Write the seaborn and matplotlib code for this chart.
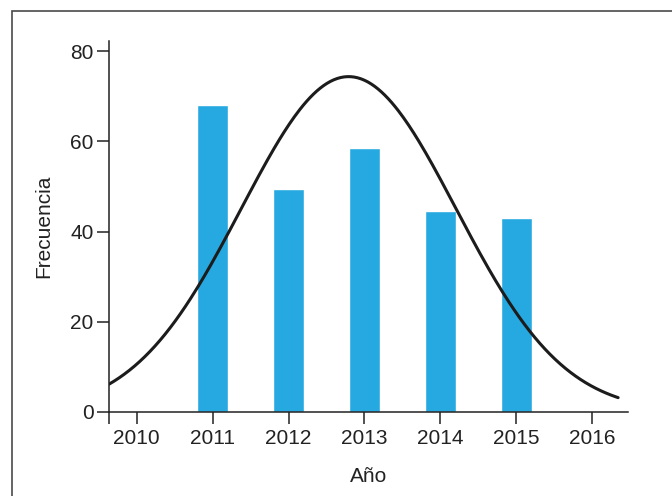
import numpy as np
import pandas as pd
import matplotlib
matplotlib.use("Agg")
import matplotlib.pyplot as plt
from matplotlib.patches import Rectangle
import seaborn as sns

# Frequencies per year
years = [2011, 2012, 2013, 2014, 2015]
frecuencia = [68, 49.5, 58.5, 44.5, 43]
tick_years = [2010, 2011, 2012, 2013, 2014, 2015, 2016]
y_ticks = [0, 20, 40, 60, 80]

sns.set_theme(style="white")
plt.rcParams["font.family"] = ["Liberation Sans", "DejaVu Sans"]

df = pd.DataFrame({"Año": years, "Frecuencia": frecuencia})

# Normal curve fitted to the frequency distribution (bin width = 1 year)
x = np.array(years, dtype=float)
w = np.array(frecuencia, dtype=float)
n = w.sum()
mu = (x * w).sum() / n
sigma = np.sqrt(((x - mu) ** 2 * w).sum() / n)
xs = np.linspace(2009.636, 2016.34, 300)
ys = n / (sigma * np.sqrt(2 * np.pi)) * np.exp(-0.5 * ((xs - mu) / sigma) ** 2)
curve = pd.DataFrame({"x": xs, "y": ys})

fig = plt.figure(figsize=(6.72, 4.96), dpi=100)
ax = fig.add_axes([0.1622, 0.1694, 0.9345 - 0.1622, 0.9173 - 0.1694])

dark = "#222222"
sns.barplot(data=df, x="Año", y="Frecuencia", native_scale=True, width=0.4,
            color="#26A9E0", saturation=1, ax=ax)
sns.lineplot(data=curve, x="x", y="y", color="#1c1c1c", linewidth=2.2, ax=ax)

ax.set_xlim(2009.636, 2016.47)
ax.set_ylim(0, 82.26)
ax.set_xticks(tick_years)
ax.set_xticklabels([str(t) for t in tick_years])
ax.set_yticks(y_ticks)
ax.set_xticks([2009.636], minor=True)

for side in ["top", "right"]:
    ax.spines[side].set_visible(False)
for side in ["left", "bottom"]:
    ax.spines[side].set_color(dark)
    ax.spines[side].set_linewidth(1.1)

ax.tick_params(axis="both", which="major", direction="out", length=8.6,
               width=1.1, color=dark, labelsize=15, labelcolor=dark,
               bottom=True, left=True)
ax.tick_params(axis="x", which="major", pad=4)
ax.tick_params(axis="y", which="major", pad=2.5)
ax.tick_params(axis="x", which="minor", direction="out", length=8.6,
               width=1.1, color=dark, bottom=True)

ax.set_xlabel("Año", fontsize=15, color=dark, labelpad=13)
ax.set_ylabel("Frecuencia", fontsize=15, color=dark, labelpad=12)

# Outer frame around the figure
fig.add_artist(Rectangle((11.5 / 672, -0.5), 2.0, 0.5 + 1 - 10.5 / 496,
                         transform=fig.transFigure, fill=False,
                         edgecolor="#4a4a4a", linewidth=1.2))

fig.savefig("out.png", dpi=100)
